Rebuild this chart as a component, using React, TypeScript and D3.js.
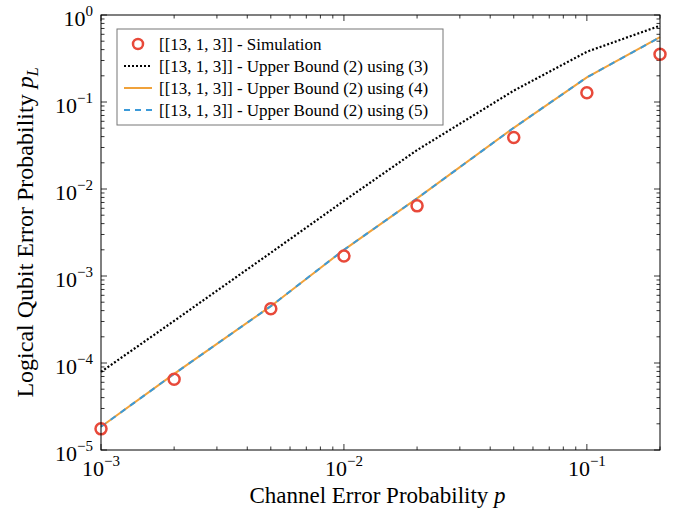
import React from "react";
import * as d3 from "d3";

// channel error probability p
const pValues = [0.001, 0.002, 0.005, 0.01, 0.02, 0.05, 0.1, 0.2];
// simulated logical error rate
const simulation = [1.75e-5, 6.5e-5, 4.2e-4, 1.7e-3, 6.4e-3, 0.039, 0.128, 0.353];
// upper bound (2) using (3)
const boundEq3 = [7.9e-5, 3.05e-4, 1.85e-3, 7.3e-3, 0.028, 0.135, 0.378, 0.753];
// upper bound (2) using (4) and (5) overlap
const boundEq4 = [1.85e-5, 7.5e-5, 4.5e-4, 2.0e-3, 7.8e-3, 0.0505, 0.192, 0.555];
const boundEq5 = [1.85e-5, 7.5e-5, 4.5e-4, 2.0e-3, 7.8e-3, 0.0505, 0.192, 0.555];

const xMajor = [-3, -2, -1];
const yMajor = [-5, -4, -3, -2, -1, 0];
const legendLabels = [
  "[[13, 1, 3]] - Simulation",
  "[[13, 1, 3]] - Upper Bound (2) using (3)",
  "[[13, 1, 3]] - Upper Bound (2) using (4)",
  "[[13, 1, 3]] - Upper Bound (2) using (5)",
];

const W = 688;
const H = 515;
const m = { left: 101, right: 660, top: 15, bottom: 450 };
const serif = "'Liberation Serif', 'DejaVu Serif', serif";
const red = "#e8493a";
const orange = "#f0a23b";
const blue = "#3b9ad9";

export default function App() {
  const x = d3.scaleLog().domain([1e-3, 0.2]).range([m.left, m.right]);
  const y = d3.scaleLog().domain([1e-5, 1]).range([m.bottom, m.top]);

  const line = (vals: number[]) =>
    d3
      .line<number>()
      .x((_, i) => x(pValues[i]))
      .y((d) => y(d))(vals) as string;

  const xMinor: number[] = [];
  xMajor.forEach((e) => {
    for (let k = 2; k <= 9; k++) {
      const v = k * Math.pow(10, e);
      if (v <= 0.2 + 1e-9) xMinor.push(v);
    }
  });
  const yMinor: number[] = [];
  yMajor.slice(0, -1).forEach((e) => {
    for (let k = 2; k <= 9; k++) yMinor.push(k * Math.pow(10, e));
  });

  const lx = 117;
  const ly = 29;
  const rowY = (i: number) => ly + 15 + i * 22;

  return (
    <svg
      width={W}
      height={H}
      style={{ position: "absolute", left: 0, top: 0, background: "#fff" }}
      fontFamily={serif}
    >
      {/* ticks */}
      <g stroke="#000" strokeWidth={0.8}>
        {xMajor.map((e) => {
          const px = x(Math.pow(10, e));
          return (
            <g key={"xM" + e}>
              <line x1={px} x2={px} y1={m.bottom} y2={m.bottom - 6} />
              <line x1={px} x2={px} y1={m.top} y2={m.top + 6} />
            </g>
          );
        })}
        {xMinor.map((v, i) => (
          <g key={"xm" + i}>
            <line x1={x(v)} x2={x(v)} y1={m.bottom} y2={m.bottom - 3.5} />
            <line x1={x(v)} x2={x(v)} y1={m.top} y2={m.top + 3.5} />
          </g>
        ))}
        {yMajor.map((e) => {
          const py = y(Math.pow(10, e));
          return (
            <g key={"yM" + e}>
              <line x1={m.left} x2={m.left + 6} y1={py} y2={py} />
              <line x1={m.right} x2={m.right - 6} y1={py} y2={py} />
            </g>
          );
        })}
        {yMinor.map((v, i) => (
          <g key={"ym" + i}>
            <line x1={m.left} x2={m.left + 3.5} y1={y(v)} y2={y(v)} />
            <line x1={m.right} x2={m.right - 3.5} y1={y(v)} y2={y(v)} />
          </g>
        ))}
      </g>

      {/* series */}
      <path d={line(boundEq3)} fill="none" stroke="#000" strokeWidth={2.2} strokeDasharray="2 2" />
      <path d={line(boundEq4)} fill="none" stroke={orange} strokeWidth={2} />
      <path d={line(boundEq5)} fill="none" stroke={blue} strokeWidth={2} strokeDasharray="6 6" />
      {simulation.map((v, i) => (
        <circle key={i} cx={x(pValues[i])} cy={y(v)} r={5.5} fill="none" stroke={red} strokeWidth={2.5} />
      ))}

      {/* frame */}
      <rect
        x={m.left}
        y={m.top}
        width={m.right - m.left}
        height={m.bottom - m.top}
        fill="none"
        stroke="#000"
        strokeWidth={1}
      />

      {/* tick labels */}
      {xMajor.map((e) => (
        <text key={"xl" + e} x={x(Math.pow(10, e))} y={m.bottom + 26} textAnchor="middle" fontSize={22}>
          10<tspan dy={-10} fontSize={15}>{"\u2212" + Math.abs(e)}</tspan>
        </text>
      ))}
      {yMajor.map((e) => (
        <text key={"yl" + e} x={m.left - 8} y={y(Math.pow(10, e)) + 11} textAnchor="end" fontSize={22}>
          10<tspan dy={-10} fontSize={15}>{e === 0 ? "0" : "\u2212" + Math.abs(e)}</tspan>
        </text>
      ))}

      {/* axis labels */}
      <text x={(m.left + m.right) / 2 - 3} y={503} textAnchor="middle" fontSize={23}>
        Channel Error Probability <tspan fontStyle="italic">p</tspan>
      </text>
      <text
        transform={`translate(33,${(m.top + m.bottom) / 2}) rotate(-90)`}
        textAnchor="middle"
        fontSize={24}
      >
        Logical Qubit Error Probability <tspan fontStyle="italic">p</tspan>
        <tspan fontStyle="italic" fontSize={16} dy={5}>L</tspan>
      </text>

      {/* legend */}
      <rect x={lx} y={ly} width={326} height={96} fill="#fff" stroke="#777" strokeWidth={1} />
      <circle cx={138} cy={rowY(0)} r={5} fill="none" stroke={red} strokeWidth={2.5} />
      <line x1={124} x2={152} y1={rowY(1)} y2={rowY(1)} stroke="#000" strokeWidth={2.2} strokeDasharray="2 2" />
      <line x1={124} x2={152} y1={rowY(2)} y2={rowY(2)} stroke={orange} strokeWidth={2} />
      <line x1={124} x2={152} y1={rowY(3)} y2={rowY(3)} stroke={blue} strokeWidth={2} strokeDasharray="6 5" />
      {legendLabels.map((t, i) => (
        <text key={t} x={159} y={rowY(i) + 5.5} fontSize={17}>
          {t}
        </text>
      ))}
    </svg>
  );
}
